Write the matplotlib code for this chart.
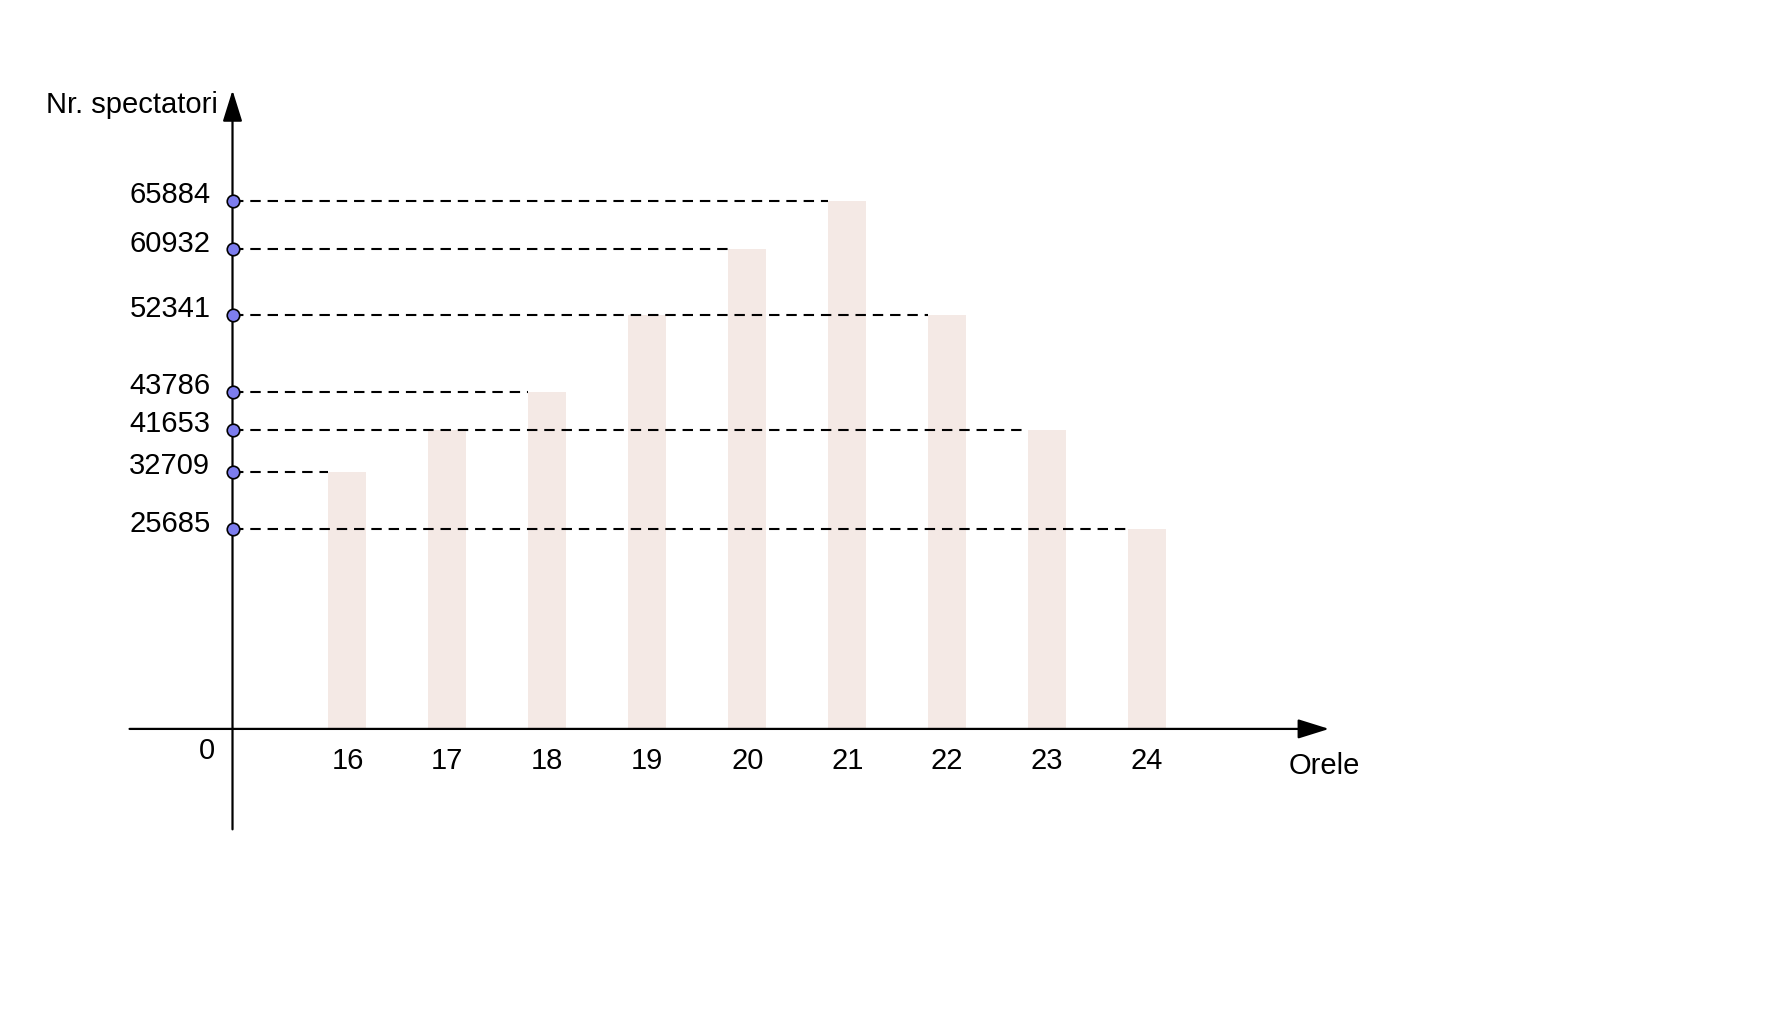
import numpy as np
import matplotlib.pyplot as plt

# data
hours = [16, 17, 18, 19, 20, 21, 22, 23, 24]
spectators = [32709, 41653, 43786, 52341, 60932, 65884, 52341, 41653, 25685]
marked_values = [65884, 60932, 52341, 43786, 41653, 32709, 25685]

plt.rcParams['font.family'] = ['Liberation Sans', 'DejaVu Sans']

# the y axis in the drawing is spaced by hand, not linearly:
# these anchors give the drawn height of each marked value
scale_vals = np.array([-40000, 0, 25685, 32709, 41653, 43786, 52341, 60932, 65884, 100000])
scale_pos = np.array([-277, 0, 177, 228, 265, 299, 367, 425, 468, 704.0])


def forward(v):
    return np.interp(v, scale_vals, scale_pos)


def inverse(p):
    return np.interp(p, scale_pos, scale_vals)


fig = plt.figure(figsize=(17.69, 10.11), dpi=100)
ax = fig.add_axes([0, 0, 1, 1])
ax.axis('off')
ax.set_yscale('function', functions=(forward, inverse))
ax.set_xlim(12.524, 30.221)
ax.set_ylim(inverse(-250), inverse(646))

y_axis_x = 14.85

# bars
ax.bar(hours, spectators, width=0.38, color='#f4e9e5', zorder=1)

# dashed guide lines from the y axis to the left edge of the farthest bar
for v in marked_values:
    last = max(h for h, s in zip(hours, spectators) if s == v)
    ax.plot([y_axis_x, last - 0.19], [v, v], color='black', lw=1.5,
            linestyle=(0, (5, 3.3)), zorder=3)

# axes with arrows
arrow = dict(arrowstyle='-|>,head_length=0.8,head_width=0.25',
             mutation_scale=24, lw=1.6, color='black', shrinkA=0, shrinkB=0)
ax.annotate('', xy=(25.82, 0), xytext=(13.82, 0), arrowprops=arrow, zorder=4)
ax.annotate('', xy=(y_axis_x, inverse(566)), xytext=(y_axis_x, inverse(-89)),
            arrowprops=arrow, zorder=4)

# points on the y axis
ax.plot([y_axis_x] * len(marked_values), marked_values, 'o', ms=9,
        markerfacecolor='#7d7dee', markeredgecolor='black', mew=1.2, zorder=5)

for v in marked_values:
    ax.annotate(str(v), xy=(y_axis_x, v), xytext=(-16, 4), textcoords='offset points',
                ha='right', va='center', fontsize=21)

for h in hours:
    ax.annotate(str(h), xy=(h, 0), xytext=(0, -23), textcoords='offset points',
                ha='center', va='center', fontsize=21)

fig.text(0.1167, 0.2567, '0', ha='center', va='center', fontsize=21)
fig.text(0.7487, 0.2422, 'Orele', ha='center', va='center', fontsize=21)
fig.text(0.1231, 0.8962, 'Nr. spectatori', ha='right', va='center', fontsize=21)

fig.savefig('out.png', dpi=100)
